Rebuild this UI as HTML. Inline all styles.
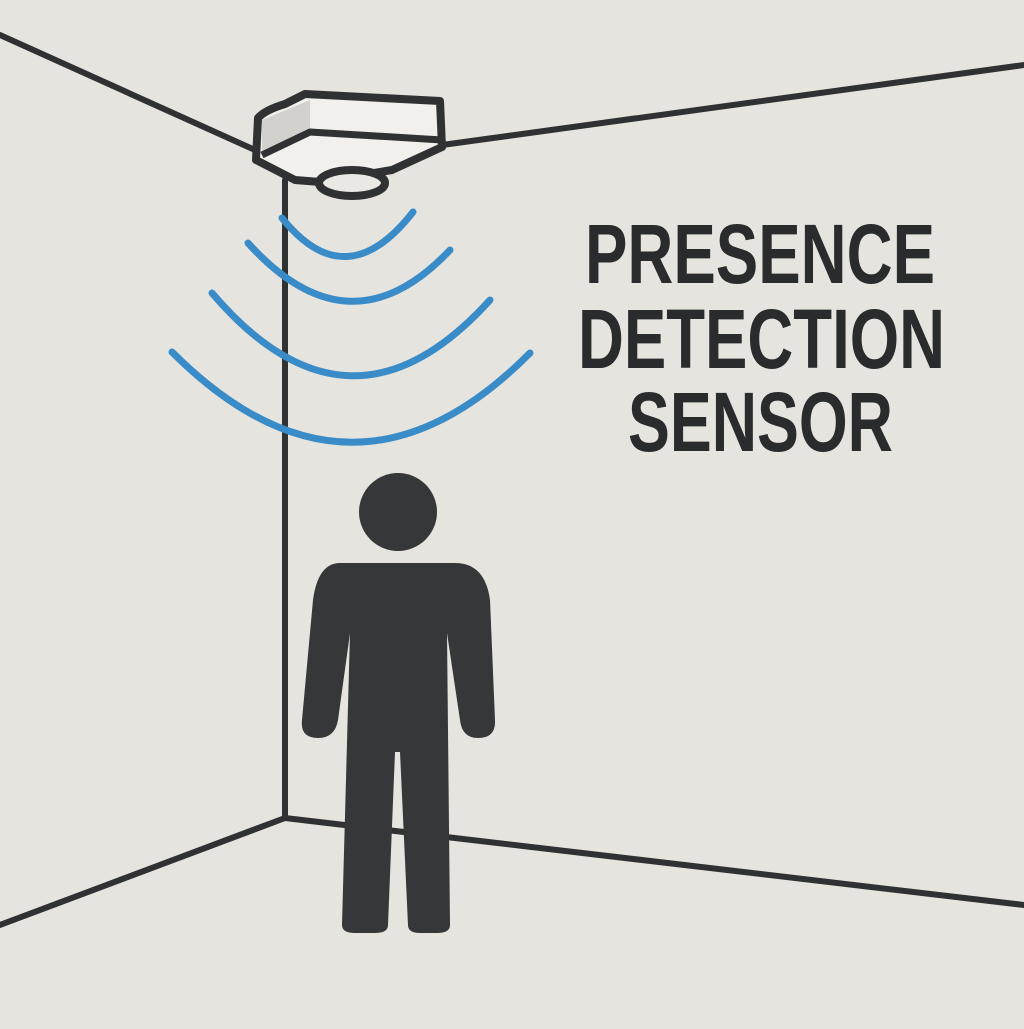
<!DOCTYPE html>
<html><head><meta charset="utf-8"><style>html,body{margin:0;padding:0;background:#e6e4df}</style></head>
<body>
<svg width="1024" height="1024" viewBox="0 0 1024 1024" xmlns="http://www.w3.org/2000/svg">
<rect width="1024" height="1024" fill="#e6e4df"/>
<g stroke="#2f3133" stroke-width="6" fill="none" stroke-linecap="round">
<line x1="0" y1="35" x2="255" y2="150"/>
<line x1="442" y1="145" x2="1024" y2="65"/>
<line x1="285" y1="180" x2="285" y2="818"/>
<line x1="285" y1="818" x2="0" y2="925"/>
<line x1="285" y1="818" x2="1024" y2="905"/>
</g>
<g stroke="#2f3133" stroke-width="8" stroke-linejoin="round">
<path d="M258,118 Q265,110 285,104 L305,94 L440,101 L442,147 L392,170 L320,182 L295,180 L256,160 Z" fill="#f1f0ec"/>
<path d="M262,120 L310,100 L310,132 L262,155 Z" fill="#d2d1cd" stroke="none"/>
<path d="M262,155 L310,132 L442,140" fill="none" stroke-width="7"/>
<ellipse cx="352" cy="183" rx="33" ry="13" fill="#e9e8e4"/>
</g>
<g stroke="#3a8cc8" stroke-width="7" fill="none" stroke-linecap="round">
<path d="M282,218 Q346,298 413,212"/>
<path d="M248,243 Q350,356 450,250"/>
<path d="M212,293 Q350,455 490,300"/>
<path d="M172,352 Q352,532 530,353"/>
</g>
<circle cx="398" cy="512" r="39" fill="#353739"/>
<path d="M340,563 H455 Q485,563 490,600 L495,720 Q496,738 478,738 Q462,738 460,720 L447,633 L450,925 Q450,933 437,933 L420,933 Q408,933 408,925 L400,752 H395 L388,925 Q388,933 375,933 H355 Q342,933 342,925 L350,633 L338,720 Q335,738 318,738 Q300,738 302,720 L313,600 Q318,563 340,563 Z" fill="#353739"/>
<g font-family="Liberation Sans, sans-serif" font-weight="bold" font-size="84" fill="#2a2b2c" text-anchor="start">
<text x="585" y="283" textLength="350" lengthAdjust="spacingAndGlyphs">PRESENCE</text>
<text x="578" y="368" textLength="367" lengthAdjust="spacingAndGlyphs">DETECTION</text>
<text x="628" y="451" textLength="265" lengthAdjust="spacingAndGlyphs">SENSOR</text>
</g>
</svg>
</body></html>
